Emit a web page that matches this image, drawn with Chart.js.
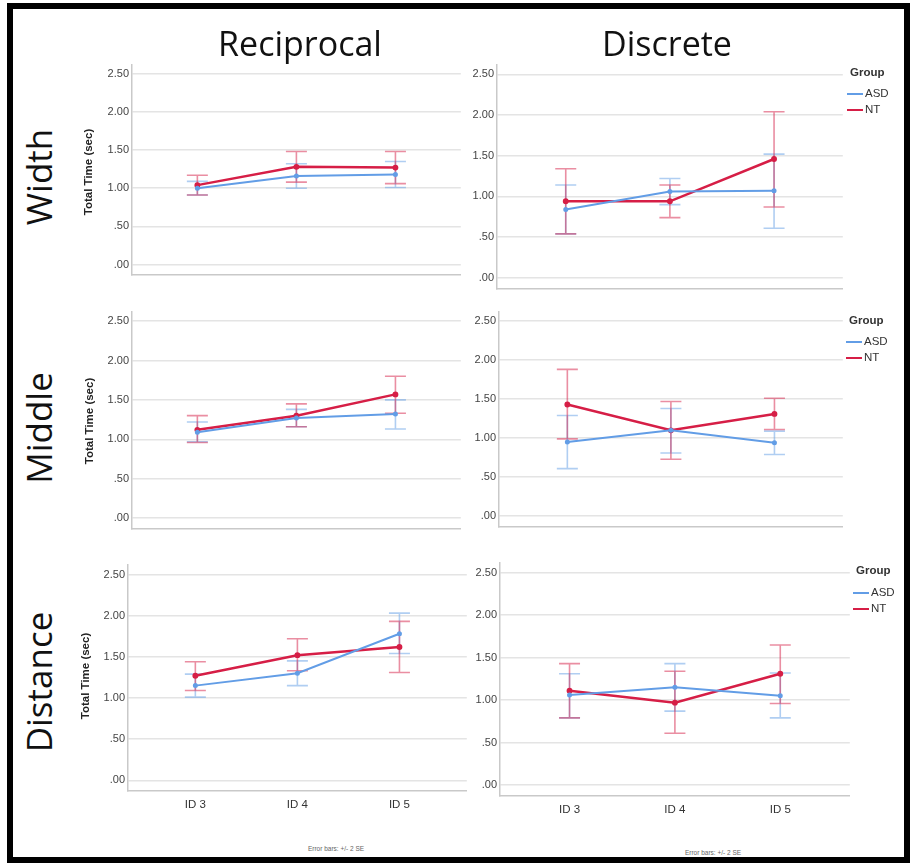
<!DOCTYPE html>
<html>
<head>
<meta charset="utf-8">
<script src="https://cdn.jsdelivr.net/npm/chart.js@4.4.1/dist/chart.umd.min.js"></script>
<style>
  body { margin: 0; width: 910px; height: 863px; background: #fff; position: relative; overflow: hidden;
         font-family: "Liberation Sans", Arial, sans-serif; }
  canvas { position: absolute; }
  .frame { position: absolute; left: 7px; top: 3px; width: 903px; height: 860px; border: 6px solid #000; box-sizing: border-box; }
  .title { position: absolute; font-family: "Open Sans", sans-serif; font-size: 34px; line-height: 34px; color: #111;
           transform: translateX(-50%); white-space: nowrap; }
  .row { position: absolute; font-family: "Open Sans", sans-serif; font-size: 35px; line-height: 35px; color: #111;
         transform: translate(-50%, -50%) rotate(-90deg); white-space: nowrap; }
  .ytitle { position: absolute; font-weight: bold; font-size: 11.5px; line-height: 12px; color: #222;
            transform: translate(-50%, -50%) rotate(-90deg); white-space: nowrap; }
  .legend { position: absolute; font-size: 11.5px; color: #333; }
  .legend .head { font-weight: bold; position: absolute; left: 3px; top: -7px; white-space: nowrap; }
  .legend .item { position: absolute; left: 0; white-space: nowrap; line-height: 14px; }
  .legend .sw { display: inline-block; width: 16px; height: 2px; vertical-align: middle; margin-right: 2px; }
  .note { position: absolute; font-size: 6.5px; color: #666; transform: translate(-50%, -50%); white-space: nowrap; }
</style>
</head>
<body>

<script>
// categories and axis labels
const idValues = [3, 4, 5];
const idLabels = ["ID 3", "ID 4", "ID 5"];
const yTicks = [0, 0.5, 1, 1.5, 2, 2.5];
const yTickLabels = [".00", ".50", "1.00", "1.50", "2.00", "2.50"];
const groups = ["ASD", "NT"];

// Reciprocal - Width
const recWidthASD     = [1.00, 1.16, 1.18];
const recWidthASDLow  = [0.91, 1.00, 1.01];
const recWidthASDHigh = [1.09, 1.32, 1.35];
const recWidthNT      = [1.04, 1.28, 1.27];
const recWidthNTLow   = [0.91, 1.08, 1.06];
const recWidthNTHigh  = [1.17, 1.48, 1.48];

// Discrete - Width
const disWidthASD     = [0.84, 1.06, 1.07];
const disWidthASDLow  = [0.54, 0.90, 0.61];
const disWidthASDHigh = [1.14, 1.22, 1.52];
const disWidthNT      = [0.94, 0.94, 1.46];
const disWidthNTLow   = [0.54, 0.74, 0.87];
const disWidthNTHigh  = [1.34, 1.14, 2.04];

// Reciprocal - Middle
const recMiddleASD     = [1.09, 1.27, 1.32];
const recMiddleASDLow  = [0.97, 1.16, 1.13];
const recMiddleASDHigh = [1.22, 1.38, 1.50];
const recMiddleNT      = [1.12, 1.30, 1.57];
const recMiddleNTLow   = [0.96, 1.16, 1.33];
const recMiddleNTHigh  = [1.30, 1.45, 1.80];

// Discrete - Middle
const disMiddleASD     = [0.95, 1.10, 0.94];
const disMiddleASDLow  = [0.61, 0.81, 0.79];
const disMiddleASDHigh = [1.29, 1.38, 1.09];
const disMiddleNT      = [1.43, 1.10, 1.31];
const disMiddleNTLow   = [0.99, 0.73, 1.11];
const disMiddleNTHigh  = [1.88, 1.47, 1.51];

// Reciprocal - Distance
const recDistASD     = [1.15, 1.30, 1.78];
const recDistASDLow  = [1.01, 1.15, 1.54];
const recDistASDHigh = [1.29, 1.45, 2.03];
const recDistNT      = [1.27, 1.52, 1.62];
const recDistNTLow   = [1.09, 1.33, 1.31];
const recDistNTHigh  = [1.44, 1.72, 1.93];

// Discrete - Distance
const disDistASD     = [1.06, 1.15, 1.05];
const disDistASDLow  = [0.79, 0.87, 0.79];
const disDistASDHigh = [1.31, 1.43, 1.32];
const disDistNT      = [1.11, 0.97, 1.31];
const disDistNTLow   = [0.79, 0.61, 0.96];
const disDistNTHigh  = [1.43, 1.34, 1.65];

const Y_MIN = -0.13, Y_MAX = 2.62;
const X_MIN = 2.34, X_MAX = 5.66;

const colASD = "rgb(98,157,230)";
const colNT = "rgb(214,30,70)";
const errASD = "rgba(98,157,230,0.5)";
const errNT = "rgba(214,30,70,0.5)";

// panel placement: L/R = plot edges, y0 / y25 = pixel rows of 0 and 2.5
const panels = [
  { L: 132, R: 461, y0: 272, y25: 73,  bottom: false, asd: [recWidthASD, recWidthASDLow, recWidthASDHigh],    nt: [recWidthNT, recWidthNTLow, recWidthNTHigh] },
  { L: 497, R: 843, y0: 284, y25: 73,  bottom: false, asd: [disWidthASD, disWidthASDLow, disWidthASDHigh],    nt: [disWidthNT, disWidthNTLow, disWidthNTHigh] },
  { L: 132, R: 461, y0: 525, y25: 320, bottom: false, asd: [recMiddleASD, recMiddleASDLow, recMiddleASDHigh], nt: [recMiddleNT, recMiddleNTLow, recMiddleNTHigh] },
  { L: 499, R: 843, y0: 523, y25: 320, bottom: false, asd: [disMiddleASD, disMiddleASDLow, disMiddleASDHigh], nt: [disMiddleNT, disMiddleNTLow, disMiddleNTHigh] },
  { L: 128, R: 467, y0: 781, y25: 573, bottom: true,  asd: [recDistASD, recDistASDLow, recDistASDHigh],       nt: [recDistNT, recDistNTLow, recDistNTHigh] },
  { L: 500, R: 850, y0: 785, y25: 571, bottom: true,  asd: [disDistASD, disDistASDLow, disDistASDHigh],       nt: [disDistNT, disDistNTLow, disDistNTHigh] }
];

const errorBars = {
  id: "errorBars",
  beforeDatasetsDraw(chart) {
    const { ctx, scales: { x, y } } = chart;
    chart.data.datasets.forEach(ds => {
      ctx.save();
      ctx.strokeStyle = ds.errColor;
      ctx.lineWidth = 1.6;
      ctx.beginPath();
      ds.data.forEach(p => {
        const px = x.getPixelForValue(p.x);
        const lo = y.getPixelForValue(p.lo);
        const hi = y.getPixelForValue(p.hi);
        ctx.moveTo(px, lo); ctx.lineTo(px, hi);
        ctx.moveTo(px - 10.5, lo); ctx.lineTo(px + 10.5, lo);
        ctx.moveTo(px - 10.5, hi); ctx.lineTo(px + 10.5, hi);
      });
      ctx.stroke();
      ctx.restore();
    });
  }
};

function points(arr) {
  return idValues.map((v, i) => ({ x: v, y: arr[0][i], lo: arr[1][i], hi: arr[2][i] }));
}

const axisW = 40, padT = 8, padR = 4;

panels.forEach(p => {
  const unit = (p.y0 - p.y25) / 2.5;
  const top = p.y25 - (Y_MAX - 2.5) * unit;
  const bot = p.y0 - Y_MIN * unit;
  const xAxisH = p.bottom ? 26 : 3;

  const cv = document.createElement("canvas");
  cv.width = axisW + (p.R - p.L) + padR;
  cv.height = padT + (bot - top) + xAxisH;
  cv.style.left = (p.L - axisW) + "px";
  cv.style.top = (top - padT) + "px";
  document.body.appendChild(cv);

  new Chart(cv, {
    type: "scatter",
    data: {
      datasets: [
        { label: groups[0], data: points(p.asd), showLine: true, borderColor: colASD, backgroundColor: colASD,
          borderWidth: 2, pointRadius: 1.5, pointHoverRadius: 1.5, errColor: errASD },
        { label: groups[1], data: points(p.nt), showLine: true, borderColor: colNT, backgroundColor: colNT,
          borderWidth: 2.5, pointRadius: 1.7, pointHoverRadius: 1.7, errColor: errNT }
      ]
    },
    options: {
      responsive: false,
      animation: false,
      events: [],
      layout: { padding: { top: padT, right: padR, left: 0, bottom: 0 } },
      plugins: { legend: { display: false }, tooltip: { enabled: false } },
      scales: {
        x: {
          type: "linear", min: X_MIN, max: X_MAX,
          afterBuildTicks: s => { s.ticks = idValues.map(v => ({ value: v })); },
          afterFit: s => { s.height = xAxisH; },
          grid: { display: false, drawTicks: false },
          border: { display: true, color: "#c9c9c9", width: 1.5 },
          ticks: { display: p.bottom, padding: 7, color: "#333",
                   font: { family: "Liberation Sans", size: 11.5 },
                   callback: v => idLabels[idValues.indexOf(v)] }
        },
        y: {
          min: Y_MIN, max: Y_MAX,
          afterBuildTicks: s => { s.ticks = yTicks.map(v => ({ value: v })); },
          afterFit: s => { s.width = axisW; },
          grid: { color: "#e4e4e4", lineWidth: 1.5, drawTicks: false },
          border: { display: true, color: "#c9c9c9", width: 1.5 },
          ticks: { padding: 3, color: "#444",
                   font: { family: "Liberation Sans", size: 11 },
                   callback: v => yTickLabels[yTicks.indexOf(v)] }
        }
      }
    },
    plugins: [errorBars]
  });
});
</script>

<div class="title" style="left:300px; top:26px;">Reciprocal</div>
<div class="title" style="left:667px; top:26px;">Discrete</div>

<div class="row" style="left:38px; top:177px;">Width</div>
<div class="row" style="left:38px; top:428px;">Middle</div>
<div class="row" style="left:38px; top:682px;">Distance</div>

<div class="ytitle" style="left:88px; top:172px;">Total Time (sec)</div>
<div class="ytitle" style="left:89px; top:421px;">Total Time (sec)</div>
<div class="ytitle" style="left:85px; top:676px;">Total Time (sec)</div>

<div class="legend" style="left:847px; top:73px;">
  <div class="head">Group</div>
  <div class="item" style="top:13px;"><span class="sw" style="background:rgb(98,157,230)"></span>ASD</div>
  <div class="item" style="top:29px;"><span class="sw" style="background:rgb(214,30,70)"></span>NT</div>
</div>
<div class="legend" style="left:846px; top:321px;">
  <div class="head">Group</div>
  <div class="item" style="top:13px;"><span class="sw" style="background:rgb(98,157,230)"></span>ASD</div>
  <div class="item" style="top:29px;"><span class="sw" style="background:rgb(214,30,70)"></span>NT</div>
</div>
<div class="legend" style="left:853px; top:571px;">
  <div class="head">Group</div>
  <div class="item" style="top:14px;"><span class="sw" style="background:rgb(98,157,230)"></span>ASD</div>
  <div class="item" style="top:30px;"><span class="sw" style="background:rgb(214,30,70)"></span>NT</div>
</div>

<div class="note" style="left:336px; top:848px;">Error bars: +/- 2 SE</div>
<div class="note" style="left:713px; top:852px;">Error bars: +/- 2 SE</div>

<div class="frame"></div>
</body>
</html>
